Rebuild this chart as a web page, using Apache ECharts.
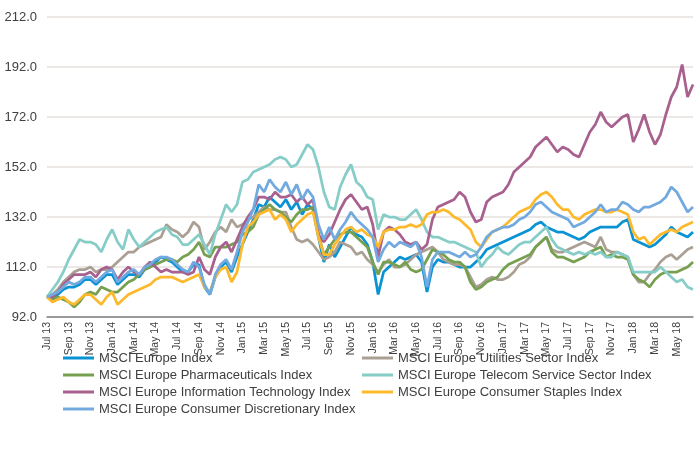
<!DOCTYPE html>
<html>
<head>
<meta charset="utf-8">
<script src="https://cdn.jsdelivr.net/npm/echarts@6/dist/echarts.min.js"></script>
<style>
html,body{margin:0;padding:0;background:#fff;}
#chart{width:699px;height:452px;}
</style>
</head>
<body>
<div id="chart"></div>
<script>
// Semi-monthly observation points (1st and 16th), Jul 2013 .. Jun 2018
const monthNames = ['Jan','Feb','Mar','Apr','May','Jun','Jul','Aug','Sep','Oct','Nov','Dec'];
const categories = [];
for (let m = 0; m < 60; m++) {
  const y = 2013 + Math.floor((6 + m) / 12);
  const mo = (6 + m) % 12;
  const mm = String(mo + 1).padStart(2, '0');
  categories.push(y + '-' + mm + '-01');
  categories.push(y + '-' + mm + '-16');
}

const yTicks = [92, 112, 132, 152, 172, 192, 212];

const seriesNames = [
  'MSCI Europe Index',
  'MSCI Europe Utilities Sector Index',
  'MSCI Europe Pharmaceuticals Index',
  'MSCI Europe Telecom Service Sector Index',
  'MSCI Europe Information Technology Index',
  'MSCI Europe Consumer Staples Index',
  'MSCI Europe Consumer Discretionary Index'
];

const europe = [100,100,101,103,104,104,105,107,107,105,107,109,109,105,107,109,109,108,111,112,
  114,116,115,114,112,110,110,113,113,104,101,108,112,114,110,116,121,126,131,137,
  136,140,138,136,139,135,138,133,137,135,124,114,121,116,120,124,128,125,124,121,
  114,101,110,112,114,116,115,116,117,114,102,112,115,114,114,113,112,112,112,114,
  116,119,120,121,122,123,124,125,126,127,129,130,128,127,126,126,125,124,123,124,
  126,127,128,128,128,128,130,131,123,122,121,120,121,123,125,128,126,125,124,126];

const utilities = [100,101,103,106,108,110,111,111,112,110,111,111,112,114,116,118,118,120,121,122,
  123,124,129,127,126,124,126,130,128,119,122,126,128,126,131,128,129,131,132,134,
  136,135,135,134,134,128,123,122,123,121,118,115,116,118,122,121,120,117,118,115,
  113,110,113,115,112,112,113,115,117,118,119,120,118,115,114,113,113,112,108,104,
  105,107,108,107,107,108,110,113,114,116,120,122,124,119,118,118,119,120,121,122,
  121,120,124,119,118,118,117,116,109,106,106,109,111,114,116,117,115,117,119,120];

const pharma = [100,99,100,99,98,96,98,101,102,101,104,103,102,102,104,106,107,109,111,112,
  113,114,115,115,114,116,117,119,122,117,116,120,120,120,121,122,125,126,128,133,
  135,137,135,134,132,130,133,135,135,136,125,117,120,123,125,126,126,124,122,120,
  114,109,114,114,113,112,114,111,110,111,115,119,118,117,115,114,114,112,106,103,
  104,106,107,108,111,113,114,115,116,117,120,122,124,118,116,116,115,114,115,116,
  118,119,120,116,117,116,116,115,109,107,106,104,107,109,110,110,110,111,112,114];

const telecom = [100,103,106,110,115,119,123,122,122,121,118,123,127,122,119,127,123,120,122,124,
  126,127,128,125,124,121,121,123,125,121,117,125,131,137,134,137,146,147,150,151,
  152,153,155,156,155,152,153,157,161,159,152,142,136,135,144,149,153,146,144,140,
  139,127,133,132,132,131,131,133,135,131,126,124,124,123,122,122,121,120,119,118,
  112,115,117,120,118,117,119,121,122,122,124,126,128,123,120,119,118,117,118,117,
  118,117,118,116,116,118,117,116,110,110,110,110,110,112,110,108,106,107,104,103];

const infoTech = [100,100,102,105,107,109,109,109,110,108,111,112,111,107,110,112,110,109,112,114,
  112,110,111,110,110,110,109,110,116,111,109,116,120,122,118,123,128,132,135,140,
  140,139,142,140,140,141,138,140,137,139,125,122,125,130,135,139,141,138,135,136,
  129,116,126,128,127,125,122,121,122,119,121,131,136,137,138,139,142,140,134,130,
  131,138,140,141,142,145,150,152,154,156,160,162,164,161,158,160,159,157,156,161,
  166,169,174,170,168,170,172,173,162,167,173,166,161,165,173,180,184,193,180,185];

const staples = [100,98,99,100,98,97,99,101,101,99,97,100,102,97,99,101,102,103,104,105,
  107,108,108,108,107,106,107,108,109,104,102,108,111,112,106,110,121,128,130,133,
  134,135,131,133,131,126,129,131,133,134,124,117,117,121,124,127,128,126,127,125,
  124,120,126,127,127,128,128,129,128,129,133,134,134,135,134,132,131,129,127,122,
  120,123,126,127,128,130,132,134,135,136,139,141,142,140,137,135,135,132,131,133,
  134,135,135,134,134,135,134,133,126,123,124,121,123,125,126,127,126,128,129,130];

const discretionary = [100,101,102,104,106,105,106,108,108,106,108,110,111,106,108,110,111,109,112,113,
  115,116,116,115,113,111,110,114,112,105,101,109,113,115,111,118,126,130,135,145,
  142,147,144,142,146,141,145,139,143,140,129,123,128,123,127,130,134,131,129,127,
  124,114,119,122,120,122,121,120,122,116,104,115,118,118,118,117,116,118,116,117,
  120,124,126,127,128,128,129,131,132,134,137,138,136,134,133,132,131,128,129,130,
  132,134,137,134,135,135,138,137,135,134,136,136,137,138,140,144,142,138,134,136];

const seriesData = [europe, utilities, pharma, telecom, infoTech, staples, discretionary];
const colors = ['#0A93D4', '#AA9F93', '#76A04F', '#86CDC8', '#A8608F', '#FDB92C', '#72AADF'];

const FONT = '"Liberation Sans", Arial, sans-serif';
const TXT = '#404040';

const chart = echarts.init(document.getElementById('chart'), null, {renderer: 'canvas'});
chart.setOption({
  animation: false,
  backgroundColor: '#ffffff',
  grid: {left: 47, right: 6, top: 17, bottom: 135, containLabel: false},
  xAxis: {
    type: 'category',
    data: categories,
    boundaryGap: false,
    axisLine: {show: true, lineStyle: {color: '#7F7F7F', width: 1.5}},
    axisTick: {show: false},
    axisLabel: {
      interval: 3,
      rotate: 90,
      margin: 5,
      fontSize: 10.5,
      fontFamily: FONT,
      color: TXT,
      formatter: function (v) {
        const p = v.split('-');
        return monthNames[parseInt(p[1], 10) - 1] + ' ' + p[0].slice(2);
      }
    },
    splitLine: {show: false}
  },
  yAxis: {
    type: 'value',
    min: yTicks[0],
    max: yTicks[yTicks.length - 1],
    interval: yTicks[1] - yTicks[0],
    axisLine: {show: false},
    axisTick: {show: false},
    axisLabel: {
      margin: 10,
      fontSize: 13,
      fontFamily: FONT,
      color: TXT,
      formatter: function (v) { return v.toFixed(1); }
    },
    splitLine: {show: true, lineStyle: {color: '#E5E1DC', width: 1.5}}
  },
  legend: [
    {
      left: 63, top: 351, orient: 'vertical', itemGap: 3, padding: 0,
      itemWidth: 31, itemHeight: 3, icon: 'rect',
      textStyle: {fontSize: 13, fontFamily: FONT, color: TXT, lineHeight: 14},
      data: [seriesNames[0], seriesNames[2], seriesNames[4], seriesNames[6]]
    },
    {
      left: 362, top: 351, orient: 'vertical', itemGap: 3, padding: 0,
      itemWidth: 31, itemHeight: 3, icon: 'rect',
      textStyle: {fontSize: 13, fontFamily: FONT, color: TXT, lineHeight: 14},
      data: [seriesNames[1], seriesNames[3], seriesNames[5]]
    }
  ],
  series: seriesNames.map(function (name, k) {
    return {
      name: name,
      type: 'line',
      data: seriesData[k],
      showSymbol: false,
      symbol: 'none',
      color: colors[k],
      lineStyle: {width: 2.75, color: colors[k]},
      emphasis: {disabled: true}
    };
  })
});
</script>
</body>
</html>
